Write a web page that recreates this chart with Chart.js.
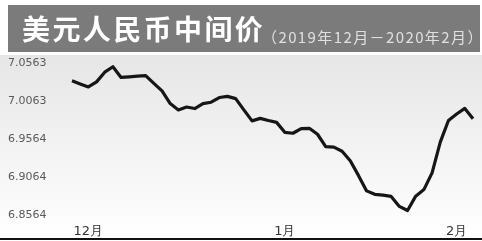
<!DOCTYPE html>
<html>
<head>
<meta charset="utf-8">
<script src="https://cdn.jsdelivr.net/npm/chart.js@4"></script>
<style>
  html, body { margin: 0; padding: 0; background: #fff; }
  #wrap { position: relative; width: 482px; height: 241px; overflow: hidden; }
  #chart { position: absolute; left: 0; top: 0; }
  #bar {
    position: absolute; left: 8px; top: 5px; width: 472px; height: 47px;
    background: #7b7b7b; white-space: nowrap;
  }
  #title {
    position: absolute; left: 14px; top: 6px;
    font: bold 28px "Noto Sans CJK SC", sans-serif; letter-spacing: 2.4px;
    color: #fff; line-height: 34px;
  }
  #sub {
    position: absolute; left: 254px; top: 22px;
    font: 15px "Noto Sans CJK SC", sans-serif; letter-spacing: 1.4px;
    color: #e0e0e0; line-height: 20px;
  }
</style>
</head>
<body>
<div id="wrap">
  <canvas id="chart" width="482" height="241"></canvas>
  <div id="bar">
    <span id="title">美元人民币中间价</span>
    <span id="sub">（2019年12月－2020年2月）</span>
  </div>
</div>
<script>
// USD/CNY central parity, one reading per trading day
const rates = [
  7.0328, 7.0287, 7.0248, 7.0315, 7.0442, 7.0514, 7.0373, 7.0381, 7.0390, 7.0398,
  7.0295, 7.0196, 7.0029, 6.9946, 6.9984, 6.9964, 7.0028, 7.0047, 7.0109, 7.0124,
  7.0095, 6.9947, 6.9802, 6.9835, 6.9806, 6.9782, 6.9651, 6.9639, 6.9701, 6.9704,
  6.9626, 6.9463, 6.9457, 6.9403, 6.9277, 6.9085, 6.8881, 6.8836, 6.8826, 6.8808,
  6.8677, 6.8623, 6.8812, 6.8898, 6.9118, 6.9523, 6.9807, 6.9892, 6.9966, 6.9830,
];

// month labels and the day index they sit under
const monthNames = ['12月', '1月', '2月'];
const monthAt    = [2, 26, 47];

// y-axis tick values and their printed labels
const yTickValues = [7.0563, 7.0063, 6.9564, 6.9064, 6.8564];
const yTickLabels = ['7.0563', '7.0063', '6.9564', '6.9064', '6.8564'];

const dayLabels = rates.map((_, i) => {
  const k = monthAt.indexOf(i);
  return k >= 0 ? monthNames[k] : '';
});

const paperBg = {
  id: 'paperBg',
  beforeInit(chart) {
    chart.ctx.letterSpacing = '2.5px';
  },
  beforeDraw(chart) {
    const { ctx, width } = chart;
    const g = ctx.createLinearGradient(0, 55, 0, 238);
    g.addColorStop(0, '#e6e6e6');
    g.addColorStop(1, '#ffffff');
    ctx.save();
    ctx.fillStyle = g;
    ctx.fillRect(0, 55, width, 183);
    ctx.fillStyle = '#111';
    ctx.fillRect(0, 238, width, 2);
    ctx.restore();
  },
};

new Chart(document.getElementById('chart'), {
  type: 'line',
  data: {
    labels: dayLabels,
    datasets: [{
      data: rates,
      borderColor: '#161616',
      borderWidth: 3.2,
      pointRadius: 0,
      tension: 0,
      borderJoinStyle: 'round',
    }],
  },
  options: {
    responsive: false,
    animation: false,
    events: [],
    layout: { padding: { left: 8, top: 63, right: 1, bottom: 0 } },
    plugins: { legend: { display: false }, tooltip: { enabled: false } },
    scales: {
      x: {
        grid: { display: false, drawTicks: false },
        border: { display: false },
        ticks: {
          autoSkip: false, maxRotation: 0, padding: 9,
          color: '#333', font: { family: 'DejaVu Sans', size: 13 },
        },
        afterFit(scale) { scale.height = 26; },
      },
      y: {
        min: 6.8564, max: 7.0563,
        grid: { display: false, drawTicks: false },
        border: { display: false },
        afterBuildTicks(scale) {
          scale.ticks = yTickValues.map(v => ({ value: v }));
        },
        ticks: {
          crossAlign: 'far',
          color: '#5a5a5a', font: { family: 'DejaVu Sans', size: 11 },
          callback(value, i) { return yTickLabels[i]; },
        },
        afterFit(scale) { scale.width = 64; },
      },
    },
  },
  plugins: [paperBg],
});
</script>
</body>
</html>
